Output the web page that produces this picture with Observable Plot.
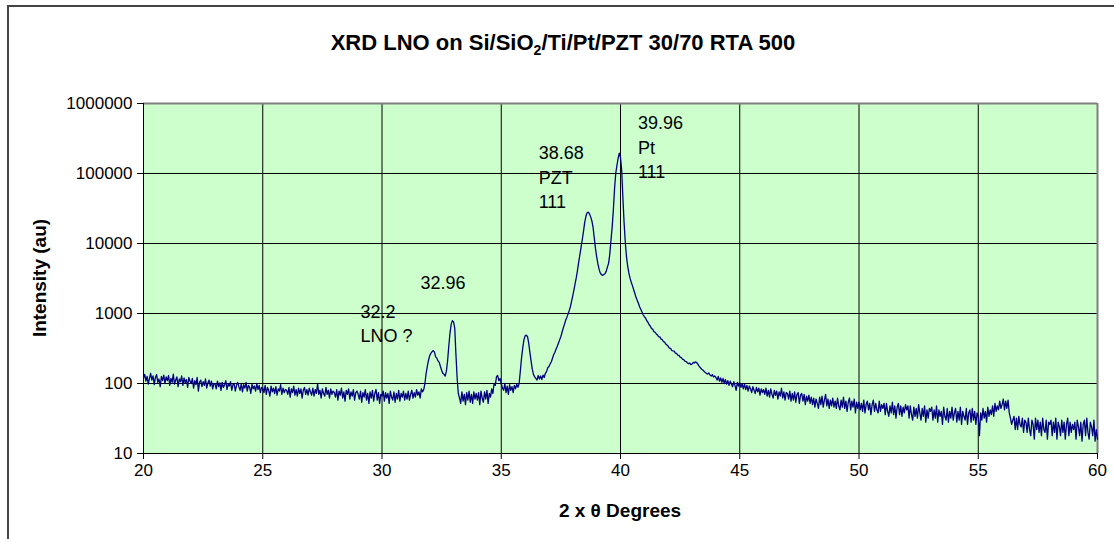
<!DOCTYPE html>
<html>
<head>
<meta charset="utf-8">
<script src="https://cdn.jsdelivr.net/npm/d3@7"></script>
<script src="https://cdn.jsdelivr.net/npm/@observablehq/plot@0.6"></script>
<style>
  html, body { margin: 0; padding: 0; background: #fff; }
  #wrap { position: relative; width: 1114px; height: 539px; overflow: hidden; background: #fff;
          font-family: "Liberation Sans", Arial, sans-serif; }
  #border { position: absolute; left: 7px; top: 5px; width: 1200px; height: 700px; border: 2px solid #444; }
  #chart { position: absolute; left: 0; top: 0; }
  #title { position: absolute; left: 0; width: 1126px; top: 30px; text-align: center;
           font-weight: bold; font-size: 22px; color: #000; }
  #title sub { font-size: 14px; vertical-align: -5px; line-height: 0; }
  #xlabel { position: absolute; left: 143px; width: 954px; top: 500px; text-align: center;
            font-weight: bold; font-size: 19px; }
  #ylabel { position: absolute; left: 40px; top: 278px; transform: translate(-50%, -50%) rotate(-90deg);
            white-space: nowrap; font-weight: bold; font-size: 19px; }
</style>
</head>
<body>
<div id="wrap">
  <div id="border"></div>
  <div id="chart"></div>
  <div id="title">XRD LNO on Si/SiO<sub>2</sub>/Ti/Pt/PZT 30/70 RTA 500</div>
  <div id="xlabel">2 x θ Degrees</div>
  <div id="ylabel">Intensity (au)</div>
</div>
<script>
// ---- data ----
const thetaStart = 20;      // 2θ of first sample (degrees)
const thetaStep = 0.05;     // sampling step (degrees)
const intensity = [
  // 20
  120,135,108,126,98,118,140,112,128,96,122,134,104,116,90,126,110,132,100,124,
  // 21
  110,130,94,118,104,136,98,112,124,90,116,106,128,94,120,102,114,88,122,108,
  // 22
  100,118,86,110,96,122,78,104,112,90,106,94,116,86,102,112,92,108,84,100,
  // 23
  98,84,108,90,102,80,104,88,96,110,82,98,92,106,80,96,100,78,94,104,
  // 24
  90,80,100,76,96,86,104,78,94,88,72,98,84,92,78,100,82,94,74,88,
  // 25
  86,74,94,70,88,80,66,92,76,86,72,90,68,84,78,96,70,86,74,82,
  // 26
  80,70,88,64,84,74,92,68,82,66,86,72,84,62,80,88,70,82,68,86,
  // 27
  76,68,86,66,82,72,100,70,80,62,84,72,66,88,70,80,62,84,70,78,
  // 28
  74,64,82,58,78,68,86,62,76,56,80,70,84,60,76,66,82,58,74,78,
  // 29
  70,60,78,54,74,64,82,58,72,52,76,62,80,56,72,82,58,74,52,70,
  // 30
  66,78,56,74,62,72,52,78,64,58,76,54,72,60,80,56,72,64,78,58,
  // 31
  72,60,78,58,70,80,62,74,64,82,68,76,62,84,76,82,100,140,175,215,
  // 32
  250,270,285,295,280,240,230,210,200,175,155,140,135,128,150,210,340,520,700,790,
  // 33
  760,620,260,120,72,62,52,76,56,70,50,74,58,78,54,70,52,76,60,72,
  // 34
  58,74,50,78,62,54,76,60,80,52,72,64,84,72,100,94,125,130,110,118,
  // 35
  100,86,80,100,74,92,70,96,80,90,74,94,84,98,88,100,150,230,320,420,
  // 36
  480,490,470,380,280,210,160,135,124,118,112,130,116,128,114,132,122,140,148,168,
  // 37
  175,190,205,230,260,280,310,340,380,420,470,540,620,700,800,880,980,1100,1250,1500,
  // 38
  1800,2200,2700,3300,4200,5500,7000,9000,11500,15000,20000,24500,27500,28000,26500,24000,21000,17000,12000,8500,
  // 39
  6500,5200,4300,3800,3600,3500,3600,3700,4000,4600,5200,7000,11000,17000,30000,60000,100000,130000,165000,195000,
  // 40
  170000,110000,45000,20000,10500,6500,4800,3800,3200,2800,2500,2200,1950,1700,1550,1400,1250,1150,1050,960,
  // 41
  900,860,790,750,690,660,610,600,550,540,510,495,465,465,430,425,395,390,365,355,
  // 42
  340,320,318,296,292,290,272,270,255,252,238,235,222,220,208,206,198,192,196,186,
  // 43
  190,200,196,204,198,188,176,168,160,156,150,144,140,136,142,132,128,134,124,128,
  // 44
  122,112,126,108,120,104,118,100,114,98,110,94,108,98,90,106,94,80,104,92,
  // 45
  102,88,100,84,98,82,94,78,92,84,74,90,80,72,88,76,86,68,84,74,
  // 46
  82,70,86,66,80,64,84,70,62,80,68,78,60,76,66,86,62,76,58,74,
  // 47
  72,60,78,56,72,58,76,54,70,74,52,68,72,56,70,50,66,56,68,52,
  // 48
  64,50,62,46,60,52,44,64,50,66,46,58,70,48,60,44,58,48,62,46,
  // 49
  56,44,62,48,42,58,46,64,44,56,40,54,62,42,56,46,60,38,54,44,
  // 50
  54,42,52,40,58,38,50,56,42,52,36,50,58,40,52,42,38,56,40,50,
  // 51
  44,52,36,52,40,34,48,38,54,36,48,32,46,52,36,48,34,46,38,50,
  // 52
  42,48,32,48,36,30,46,34,44,32,50,38,30,44,34,48,28,42,32,44,
  // 53
  40,46,30,42,32,48,28,42,34,40,26,46,34,30,44,28,40,32,46,30,
  // 54
  38,44,28,40,30,46,26,40,34,30,44,26,38,42,28,44,30,40,26,38,
  // 55
  34,18,38,30,44,32,40,28,46,34,42,36,48,34,52,40,48,42,56,44,
  // 56
  50,60,42,56,44,58,38,32,26,30,34,22,32,22,34,26,24,32,20,30,
  // 57
  28,20,32,22,18,30,26,16,32,22,30,20,28,18,32,22,20,30,16,28,
  // 58
  26,30,18,28,20,32,16,28,24,18,30,20,28,16,26,32,18,28,20,26,
  // 59
  22,28,16,30,24,18,28,15,26,30,18,32,20,16,28,24,18,30,15,22,
  // 60
  16
];

const xTicks = [20, 25, 30, 35, 40, 45, 50, 55, 60];
const yTicks = [10, 100, 1000, 10000, 100000, 1000000];

// peak annotations: one entry per text line (2θ, intensity position, text)
const annotX = [29.1, 29.1, 31.61, 36.57, 36.57, 36.57, 40.73, 40.73, 40.73];
const annotY = [1033, 469, 2683, 193000, 84800, 38500, 526000, 227500, 105000];
const annotText = ["32.2", "LNO ?", "32.96", "38.68", "PZT", "111", "39.96", "Pt", "111"];

// ---- build tables ----
const scan = intensity.map((v, i) => ({theta: +(thetaStart + i * thetaStep).toFixed(2), v}));
const annots = annotText.map((t, i) => ({x: annotX[i], y: annotY[i], t}));

const chart = Plot.plot({
  width: 1114,
  height: 539,
  marginLeft: 143,
  marginRight: 17,
  marginTop: 103,
  marginBottom: 86,
  style: {fontFamily: "'Liberation Sans', Arial, sans-serif", fontSize: "17px", background: "transparent", color: "#000"},
  x: {domain: [20, 60]},
  y: {type: "log", domain: [10, 1000000]},
  marks: [
    Plot.frame({fill: "#CCFFCC", stroke: null}),
    Plot.gridX(xTicks.slice(1, -1), {stroke: "#000", strokeOpacity: 1}),
    Plot.gridY(yTicks.slice(1, -1), {stroke: "#000", strokeOpacity: 1}),
    Plot.ruleY([1000000], {stroke: "#808080", strokeWidth: 2}),
    Plot.ruleX([60], {stroke: "#808080", strokeWidth: 2}),
    Plot.ruleX([20], {stroke: "#000"}),
    Plot.ruleY([10], {stroke: "#000"}),
    Plot.axisX({ticks: xTicks, tickSize: 6, tickPadding: 4, tickFormat: d3.format("d"), label: null, fontSize: 17}),
    Plot.axisY({ticks: yTicks, tickSize: 6, tickPadding: 5, tickFormat: d3.format("d"), label: null, fontSize: 17}),
    Plot.line(scan, {x: "theta", y: "v", stroke: "#000080", strokeWidth: 1.3}),
    Plot.text(annots, {x: "x", y: "y", text: "t", textAnchor: "start", lineAnchor: "middle", fontSize: 18, fill: "#000"})
  ]
});
document.getElementById("chart").appendChild(chart);
</script>
</body>
</html>
